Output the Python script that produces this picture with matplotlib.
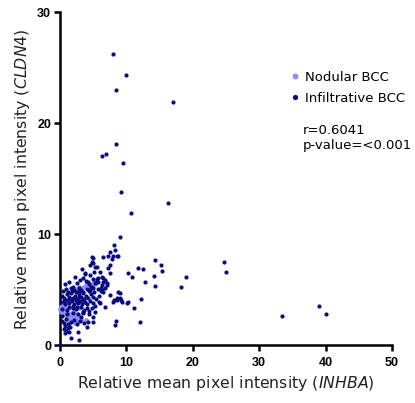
import matplotlib
matplotlib.use("Agg")
import matplotlib.pyplot as plt
from matplotlib.lines import Line2D

# INHBA (x) and CLDN4 (y) relative mean pixel intensities per region
nodular_x = [0.1, 0.2, 0.3, 0.4, 0.5, 0.6, 0.7, 0.8, 0.9, 1.0, 0.2, 0.5,
             1.1, 1.3, 1.5, 1.6, 1.8, 1.9, 2.0, 2.2, 2.3, 2.5, 2.6, 2.8, 3.0,
             1.4, 1.7, 2.1, 2.4, 2.9, 3.2, 4.0, 1.2, 2.7,
             1.5, 2.3, 3.0, 1.2,
             2.6, 3.0, 3.4, 3.8, 4.2, 4.6, 5.0, 5.4, 3.6]
nodular_y = [3.3, 3.0, 3.6, 3.2, 2.9, 3.4, 3.1, 3.7, 2.8, 3.3, 3.5, 3.8,
             2.6, 2.3, 2.8, 2.1, 2.5, 2.9, 2.2, 2.6, 2.0, 2.4, 2.8, 2.2, 2.5,
             2.0, 2.7, 3.0, 2.1, 2.7, 2.3, 2.34, 2.9, 2.5,
             3.4, 3.3, 3.4, 4.0,
             5.1, 5.3, 5.2, 5.4, 5.5, 5.3, 5.6, 5.5, 3.0]

infiltrative_x = [
    # high CLDN4 outliers
    7.97, 9.97, 8.42, 17.08, 8.52, 6.46, 7.01, 9.62, 9.22, 16.38, 10.77, 9.12,
    # far-right INHBA outliers
    24.7, 25.05, 33.42, 38.98, 40.13, 19.0, 18.27,
    # mid range
    10.35, 10.85, 11.75, 12.6, 12.85, 14.35, 15.3, 15.4, 14.2, 14.35,
    10.25, 12.25, 11.25, 12.05, 8.5, 8.3,
    4.85, 5.1, 4.85, 5.1, 5.35, 4.6, 3.35, 5.6, 3.85, 4.6, 5.2, 6.1, 6.5,
    7.35, 7.6, 8.17, 8.35, 8.6, 8.85, 8.1, 7.85, 7.35, 7.6, 7.6, 6.35,
    5.85, 6.6, 6.6, 6.85, 7.1, 6.35, 5.6, 5.85, 5.35, 4.35, 4.85, 5.1,
    4.6, 7.1, 6.85, 6.35, 6.25, 6.6, 7.6, 8.85, 8.6, 9.1, 8.1, 9.35,
    10.1, 6.85, 6.1, 9.07, 8.67, 9.22, 8.12,
    # dense low cluster
    0.8, 1.5, 2.0, 2.6, 3.1, 3.5, 4.0, 4.5, 5.0, 5.5, 2.3, 3.8,
    0.5, 1.0, 1.3, 1.7, 2.2, 2.5, 2.9, 3.3, 3.6, 4.1, 4.4, 4.8, 5.2, 5.8,
    6.2, 3.0, 1.9,
    0.3, 0.7, 1.1, 1.4, 1.8, 2.1, 2.4, 2.7, 3.0, 3.3, 3.7, 4.0, 4.3, 4.7,
    5.1, 5.5, 6.0, 1.6, 2.9, 3.5,
    0.2, 0.6, 0.9, 1.2, 1.5, 1.9, 2.2, 2.5, 2.8, 3.1, 3.4, 3.8, 4.2, 4.6,
    5.0, 5.4, 5.9, 2.0, 2.6, 3.6,
    0.4, 1.1, 1.4, 2.0, 2.7, 3.3, 3.7, 4.1, 4.5, 4.9, 5.3, 2.5, 3.5,
    0.3, 1.2, 2.0, 2.8, 3.2, 3.6, 4.4, 5.0, 1.0,
    0.4, 0.7, 1.3, 1.7, 2.2, 2.6, 3.1, 3.7, 4.3, 0.9, 5.1,
    0.6, 1.0, 1.3, 0.8, 1.6, 2.8, 4.1, 1.8, 3.0, 1.5,
    0.0]
infiltrative_y = [
    26.3, 24.35, 23.06, 21.95, 18.17, 17.03, 17.21, 16.43, 13.87, 12.82, 11.95, 9.75,
    7.55, 6.62, 2.70, 3.60, 2.85, 6.14, 5.30,
    6.50, 6.14, 7.00, 6.86, 5.70, 7.70, 7.28, 6.74, 6.26, 5.39,
    3.89, 4.19, 3.38, 2.09, 2.24, 1.85,
    8.00, 7.85, 7.55, 7.40, 7.10, 7.25, 6.86, 7.04, 6.56, 6.35, 6.60, 6.65, 8.00,
    8.06, 8.45, 9.04, 8.60, 8.10, 8.10, 8.06, 7.77, 6.95, 7.25, 6.50, 6.20,
    6.05, 5.75, 6.05, 5.90, 5.60, 5.45, 5.96, 5.75, 5.60, 5.75, 5.30, 5.15,
    5.00, 5.45, 5.15, 5.00, 5.15, 4.85, 4.55, 4.85, 4.10, 4.25, 3.95, 3.95,
    3.80, 3.50, 3.86, 4.74, 4.29, 4.14, 4.08,
    5.5, 5.7, 5.3, 5.6, 5.9, 6.1, 5.8, 5.5, 6.0, 5.7, 6.2, 6.4,
    4.9, 5.1, 4.8, 5.2, 5.0, 4.8, 5.2, 5.0, 4.8, 5.1, 4.9, 5.3, 4.8, 5.1,
    4.9, 4.9, 4.9,
    4.5, 4.3, 4.6, 4.4, 4.7, 4.3, 4.5, 4.2, 4.6, 4.4, 4.2, 4.5, 4.3, 4.6,
    4.4, 4.2, 4.5, 4.2, 4.4, 4.7,
    3.9, 4.0, 3.7, 4.1, 3.8, 4.0, 3.7, 4.1, 3.8, 4.0, 3.7, 3.9, 3.7, 4.0,
    3.8, 3.6, 3.9, 3.6, 3.9, 4.1,
    3.3, 3.2, 3.5, 3.4, 3.5, 3.5, 3.2, 3.4, 3.1, 3.4, 3.0, 3.3, 3.0,
    2.7, 2.8, 2.9, 2.8, 2.6, 2.9, 2.8, 2.6, 2.4,
    2.2, 2.0, 1.9, 2.1, 2.3, 1.9, 2.2, 2.0, 2.1, 1.8, 2.15,
    1.5, 1.3, 1.6, 1.1, 1.7, 1.25, 1.7, 0.69, 0.45, 1.2,
    0.0]

stat_lines = ["r=0.6041", "p-value=<0.001"]
x_ticks = [0, 10, 20, 30, 40, 50]
y_ticks = [0, 10, 20, 30]

dark = "#0a0a80"
light = "#8e8ef2"

fig = plt.figure(figsize=(4.15, 4.03), dpi=100)
ax = fig.add_axes([0.1434, 0.1427, 0.8012, 0.8263])

ax.scatter(nodular_x, nodular_y, s=12, color=light, linewidths=0,
           zorder=3, clip_on=False)
ax.scatter(infiltrative_x, infiltrative_y, s=9, color=dark, linewidths=0,
           zorder=4, clip_on=False)

ax.set_xlim(0, 50)
ax.set_ylim(0, 30)
ax.set_xticks(x_ticks)
ax.set_yticks(y_ticks)

for side in ("top", "right"):
    ax.spines[side].set_visible(False)
for side in ("left", "bottom"):
    ax.spines[side].set_linewidth(1.8)
    ax.spines[side].set_capstyle("projecting")

ax.tick_params(axis="both", length=4, width=1.8, color="black")
ax.tick_params(axis="x", pad=4)
ax.tick_params(axis="y", pad=2)
for lab in ax.get_xticklabels() + ax.get_yticklabels():
    lab.set_fontfamily("Liberation Sans")
    lab.set_fontweight("bold")
    lab.set_fontsize(9)

ax.set_xlabel(r"Relative mean pixel intensity ($\mathit{INHBA}$)",
              fontsize=11.3, color="#222222", labelpad=4)
ax.set_ylabel(r"Relative mean pixel intensity ($\mathit{CLDN4}$)",
              fontsize=11.3, color="#222222", labelpad=4)

handles = [
    Line2D([], [], marker="o", linestyle="none", markersize=4.2,
           markerfacecolor=light, markeredgewidth=0, label="Nodular BCC"),
    Line2D([], [], marker="o", linestyle="none", markersize=3.8,
           markerfacecolor=dark, markeredgewidth=0, label="Infiltrative BCC"),
]
leg = ax.legend(handles=handles, loc="upper left",
                bbox_to_anchor=(0.68, 0.84), frameon=False,
                fontsize=9.5, handlelength=0.6, handletextpad=0.45,
                labelspacing=0.6, borderaxespad=0)

ax.text(0.732, 0.665, "\n".join(stat_lines), transform=ax.transAxes,
        fontsize=9.5, va="top", ha="left", linespacing=1.2)

fig.savefig("out.png", dpi=100)
